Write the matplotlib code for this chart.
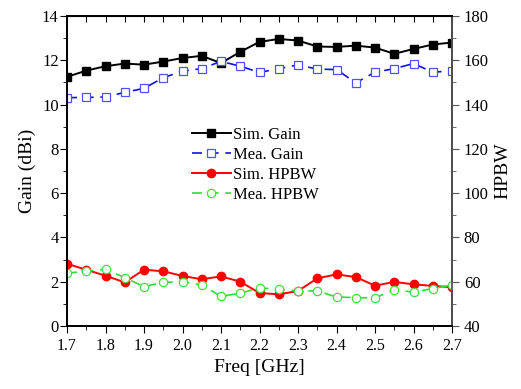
import numpy as np
import matplotlib
matplotlib.use("Agg")
import matplotlib.pyplot as plt
from matplotlib.ticker import MultipleLocator

plt.rcParams['font.family'] = ['Liberation Serif', 'DejaVu Serif']

freq = [1.70, 1.75, 1.80, 1.85, 1.90, 1.95, 2.00, 2.05, 2.10, 2.15, 2.20,
        2.25, 2.30, 2.35, 2.40, 2.45, 2.50, 2.55, 2.60, 2.65, 2.70]

sim_gain = [11.25, 11.53, 11.73, 11.85, 11.80, 11.94, 12.10, 12.20, 11.87, 12.38, 12.83,
            12.96, 12.89, 12.62, 12.60, 12.66, 12.57, 12.29, 12.51, 12.71, 12.80]
mea_gain = [10.31, 10.32, 10.34, 10.55, 10.73, 11.21, 11.51, 11.62, 11.95, 11.73, 11.45,
            11.62, 11.79, 11.60, 11.58, 10.98, 11.46, 11.62, 11.85, 11.46, 11.52]

# beamwidth in degrees (right axis)
sim_hpbw = [68.1, 65.4, 62.7, 59.7, 65.4, 64.7, 62.6, 61.1, 62.4, 60.0, 54.9,
            54.3, 55.8, 61.5, 63.3, 62.1, 58.2, 59.9, 58.8, 58.1, 57.5]
mea_hpbw = [63.9, 64.7, 65.6, 61.8, 57.8, 59.7, 60.0, 58.5, 53.4, 54.8, 57.2,
            56.6, 55.8, 55.8, 53.1, 52.8, 52.7, 56.3, 55.3, 56.9, 58.5]

fig = plt.figure(figsize=(5.21, 3.89), dpi=100)
ax = fig.add_axes([0.1286, 0.162, 0.739, 0.797])
ax2 = ax.twinx()

l1, = ax.plot(freq, sim_gain, '-', color='black', lw=1.4, marker='s', ms=5.5,
              mfc='black', mec='black', label='Sim. Gain')
l2, = ax.plot(freq, mea_gain, '--', color='#1010e0', lw=1.2, dashes=(6, 4), marker='s', ms=5.5,
              mfc='white', mec='#5050ff', mew=0.9, label='Mea. Gain')
l3, = ax2.plot(freq, sim_hpbw, '-', color='#ff0000', lw=1.4, marker='o', ms=6,
               mfc='#ff0000', mec='#ff0000', label='Sim. HPBW')
l4, = ax2.plot(freq, mea_hpbw, '--', color='#30dd30', lw=1.2, dashes=(6, 4), marker='o', ms=6,
               mfc='white', mec='#40e040', mew=0.9, label='Mea. HPBW')

ax.set_xlim(1.7, 2.7)
ax.set_ylim(0, 14)
ax2.set_ylim(40, 180)

ax.xaxis.set_major_locator(MultipleLocator(0.1))
ax.xaxis.set_minor_locator(MultipleLocator(0.05))
ax.yaxis.set_major_locator(MultipleLocator(2))
ax.yaxis.set_minor_locator(MultipleLocator(1))
ax2.yaxis.set_major_locator(MultipleLocator(20))
ax2.yaxis.set_minor_locator(MultipleLocator(10))

ax.set_xticks(np.arange(1.7, 2.71, 0.1))
ax.set_xticklabels(['%.1f' % v for v in np.arange(1.7, 2.71, 0.1)])

ax.tick_params(axis='x', which='both', direction='out', top=False, labelsize=11.5)
ax.tick_params(axis='x', which='major', length=5)
ax.tick_params(axis='x', which='minor', length=3)
ax.tick_params(axis='y', which='both', direction='out', labelsize=12)
ax.tick_params(axis='y', which='major', length=5, pad=1)
ax.tick_params(axis='y', which='minor', length=3)
ax2.tick_params(axis='y', which='both', direction='out', labelsize=12, color='#555555')
ax2.tick_params(axis='y', which='major', length=5)
ax2.tick_params(axis='y', which='minor', length=3)

# top ticks pointing inward
top = ax.secondary_xaxis('top')
top.xaxis.set_major_locator(MultipleLocator(0.05))
top.tick_params(direction='in', length=4, labeltop=False)

for a in (ax, ax2):
    for s in a.spines.values():
        s.set_linewidth(1.3)
ax2.spines['right'].set_color('#555555')

ax.set_xlabel('Freq [GHz]', fontsize=14)
ax.set_ylabel('Gain (dBi)', fontsize=14, labelpad=4)
ax2.set_ylabel('HPBW', fontsize=14, labelpad=4)

ax.legend(handles=[l1, l2, l3, l4], loc='upper left', bbox_to_anchor=(0.295, 0.68),
          frameon=False, fontsize=12, handlelength=2.3, handletextpad=0.15,
          labelspacing=0.25, borderpad=0.2)

fig.savefig('out.png', dpi=100)
